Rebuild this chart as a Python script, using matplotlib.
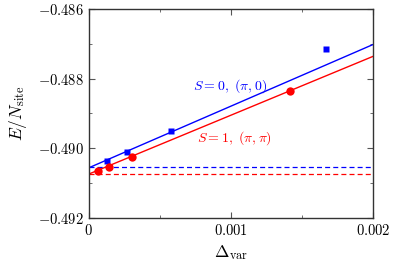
import numpy as np
import matplotlib.pyplot as plt
from matplotlib.ticker import FuncFormatter, MultipleLocator

plt.rcParams['mathtext.fontset'] = 'cm'
plt.rcParams['font.family'] = 'serif'

# donnees S=0 (pi,0)
dvar_s0 = [0.000127, 0.000268, 0.000577, 0.001671]
e_s0 = [-0.49036, -0.49011, -0.48950, -0.48716]
# donnees S=1 (pi,pi)
dvar_s1 = [0.000068, 0.000141, 0.000307, 0.001418]
e_s1 = [-0.49066, -0.49054, -0.49024, -0.48834]

# droites d'extrapolation
fit_x = [0.0, 0.002]
fit_s0 = [-0.49056, -0.48702]
fit_s1 = [-0.49074, -0.48736]
# valeurs extrapolees
e0_s0 = -0.49055
e0_s1 = -0.49075

blue = '#0000ff'
red = '#ff0000'

fig = plt.figure(figsize=(3.99, 2.61), dpi=100)
ax = fig.add_axes([88.7/399, 1-218/261, (373-88.7)/399, (218-9)/261])

ax.plot(fit_x, fit_s0, color=blue, lw=1)
ax.plot(fit_x, fit_s1, color=red, lw=1)
ax.axhline(e0_s0, color=blue, lw=0.9, ls=(0, (4, 2.5)))
ax.axhline(e0_s1, color=red, lw=0.9, ls=(0, (4, 2.5)))
ax.plot(dvar_s0, e_s0, 's', color=blue, ms=5, mec='none')
ax.plot(dvar_s1, e_s1, 'o', color=red, ms=6, mec='none')

ax.text(0.000735, -0.48821, r'$S=0,\ (\pi,0)$', color=blue, fontsize=10, va='center')
ax.text(0.000763, -0.48972, r'$S=1,\ (\pi,\pi)$', color=red, fontsize=10, va='center')

ax.set_xlim(0, 0.002)
ax.set_ylim(-0.492, -0.486)
ax.xaxis.set_major_locator(MultipleLocator(0.001))
ax.xaxis.set_minor_locator(MultipleLocator(0.0005))
ax.yaxis.set_major_locator(MultipleLocator(0.002))
ax.yaxis.set_minor_locator(MultipleLocator(0.001))

def fmt_x(v, pos):
    if abs(v) < 1e-12:
        return r'$0$'
    return r'$%.3f$' % v

def fmt_y(v, pos):
    return r'$%.3f$' % v

ax.xaxis.set_major_formatter(FuncFormatter(fmt_x))
ax.yaxis.set_major_formatter(FuncFormatter(fmt_y))
ax.tick_params(which='both', direction='in', top=True, right=True, labelsize=10.5, color='#555555')
ax.tick_params(which='major', length=4)
ax.tick_params(which='minor', length=2.5)
for s in ax.spines.values():
    s.set_color('#333333')
    s.set_linewidth(1)

ax.set_xlabel(r'$\Delta_{\rm var}$', fontsize=12.5)
ax.set_ylabel(r'$E/N_{\rm site}$', fontsize=12.5, labelpad=6)

fig.savefig('out.png', dpi=100)
